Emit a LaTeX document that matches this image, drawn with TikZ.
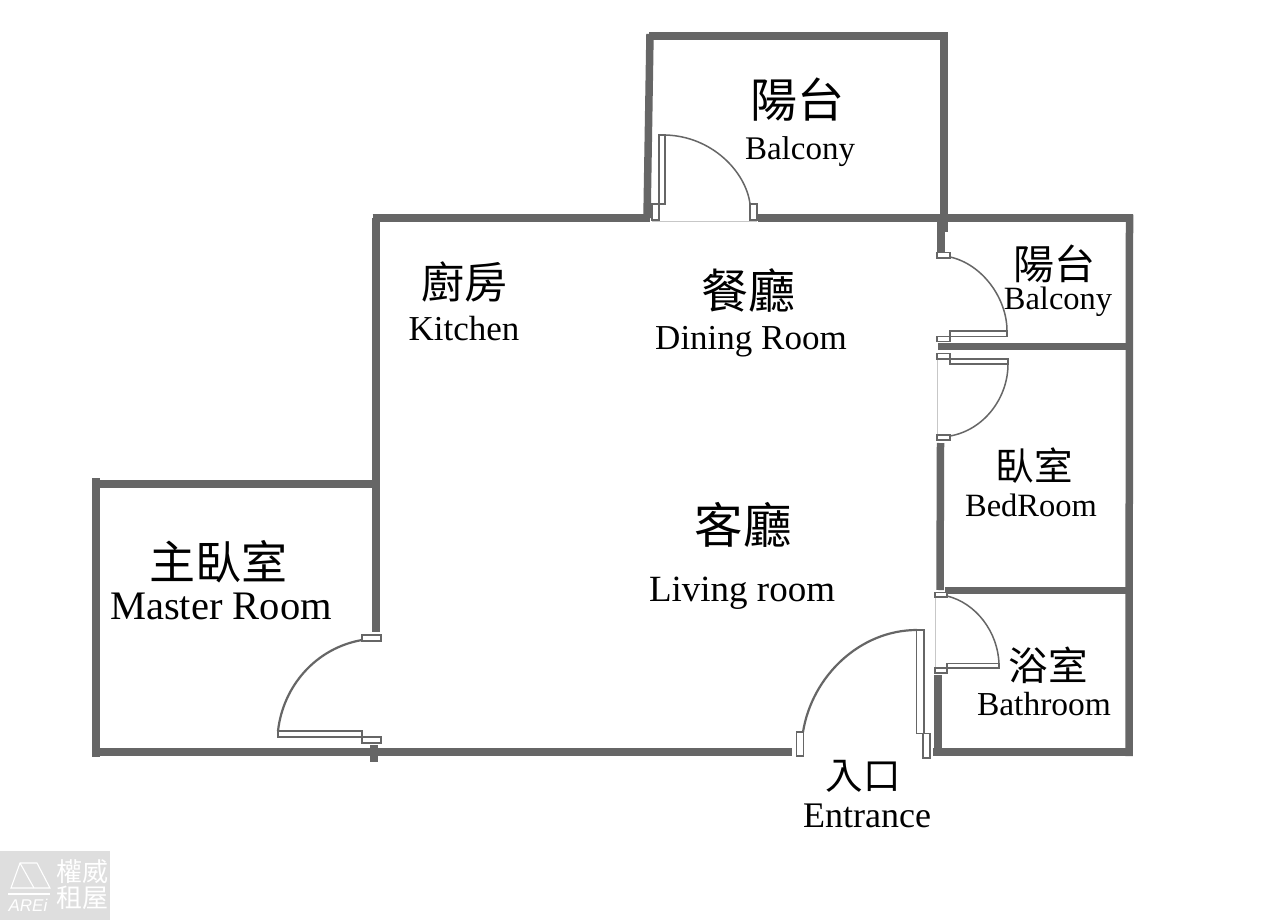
\documentclass[tikz,border=0pt]{standalone}
\usepackage{fontspec}
\setmainfont{Liberation Serif}
\newfontfamily\cjk{Noto Sans CJK TC}
\newfontfamily\wmfont{Liberation Sans}
\definecolor{wallgray}{HTML}{666666}
\definecolor{wmbg}{HTML}{DEDEDE}
\tikzset{
 wall/.style={draw=wallgray,line width=7.5pt,line cap=butt},
 doorpart/.style={draw=wallgray,fill=white,line width=1.8pt},
 swing/.style={draw=wallgray,line width=1.5pt},
 heavyswing/.style={draw=wallgray,line width=2.2pt},
 thinline/.style={draw=black!22,line width=.7pt},
 zh/.style={inner sep=0pt,font=\cjk},
 en/.style={inner sep=0pt,text=black},
}
\begin{document}
\begin{tikzpicture}[x=1pt,y=-1pt]
\useasboundingbox (0,0) rectangle (1276,920);
\fill[white] (0,0) rectangle (1276,920);
% walls
\draw[wall] (647,218) -- (650,34);
\draw[wall] (649,36) -- (948,36);
\draw[wall] (944,36) -- (944,232);
\draw[wall] (941,218) -- (941,252);
\draw[wall] (372.5,218) -- (650,218);
\draw[wall] (758,218) -- (1133,218);
\draw[wall] (1129.5,214.5) -- (1129,756);
\draw[wall] (938,346.5) -- (1133,346.5);
\draw[wall] (945,590.5) -- (1129,590.5);
\draw[wall] (940.5,443) -- (940,590);
\draw[wall] (938,675) -- (938,755);
\draw[wall] (933,752) -- (1133,752);
\draw[wall] (376,218) -- (376,632);
\draw[wall] (93,484) -- (376,484);
\draw[wall] (96,478) -- (96,757);
\draw[wall] (92,752) -- (792,752);
\draw[wall] (374,745) -- (374,762);
% balcony door
\draw[thinline] (652,221) -- (757,221);
\draw[swing] (665,135) .. controls (712,136) and (746,172) .. (750,204);
\draw[doorpart] (659,135) rectangle (665,204);
\draw[doorpart] (652,204) rectangle (659,220);
\draw[doorpart] (750,204) rectangle (757,220);
% right balcony door
\draw[swing] (950,257) .. controls (982,264) and (1007,298) .. (1007,331);
\draw[doorpart] (950,331) rectangle (1007,336.5);
\draw[doorpart] (937,252.5) rectangle (950,258);
\draw[doorpart] (937,336.5) rectangle (950,341.5);
% bedroom door
\draw[thinline] (937,359) -- (937,435);
\draw[swing] (1008,364) .. controls (1008,398) and (984,430) .. (950,436);
\draw[doorpart] (950,359) rectangle (1008,364);
\draw[doorpart] (937,353.5) rectangle (950,359);
\draw[doorpart] (937,435) rectangle (950,440);
% bathroom door
\draw[thinline] (935,597) -- (935,668);
\draw[swing] (947,596) .. controls (976,603) and (998,632) .. (999,664);
\draw[doorpart] (947,663.5) rectangle (999,668);
\draw[doorpart] (935,592.5) rectangle (947,597);
\draw[doorpart] (935,668) rectangle (947,673);
% entrance door
\draw[heavyswing] (917,630) .. controls (860,630) and (812,676) .. (803,732);
\draw[doorpart] (916.5,630) rectangle (924,733.5);
\draw[doorpart] (923,733.5) rectangle (930,758);
\draw[doorpart] (796.5,732) rectangle (803.5,756);
% master door
\draw[heavyswing] (362,640) .. controls (316,648) and (283,686) .. (278,731);
\draw[doorpart] (278,731) rectangle (362,737);
\draw[doorpart] (362,635) rectangle (381,641);
\draw[doorpart] (362,737) rectangle (381,743);
% labels
\node[zh,font=\cjk\fontsize{47}{47}\selectfont] (t1) at (797,100) {陽台};
\node[en,font=\fontsize{33}{33}\selectfont] (t2) at (800,152) {Balcony};
\node[zh,font=\cjk\fontsize{43}{43}\selectfont] (t3) at (464,282) {廚房};
\node[en,font=\fontsize{35}{35}\selectfont] (t4) at (464,329) {Kitchen};
\node[zh,font=\cjk\fontsize{47}{47}\selectfont] (t5) at (748,290) {餐廳};
\node[en,font=\fontsize{35}{35}\selectfont] (t6) at (751,342) {Dining Room};
\node[zh,font=\cjk\fontsize{41}{41}\selectfont] (t7) at (1054,264) {陽台};
\node[en,font=\fontsize{32.5}{32.5}\selectfont] (t8) at (1058,302) {Balcony};
\node[zh,font=\cjk\fontsize{38.5}{38.5}\selectfont] (t9) at (1034,466) {臥室};
\node[en,font=\fontsize{32.5}{32.5}\selectfont] (t10) at (1031,505) {BedRoom};
\node[zh,font=\cjk\fontsize{48.5}{48.5}\selectfont] (t11) at (743,525) {客廳};
\node[en,font=\fontsize{37}{37}\selectfont] (t12) at (742,593) {Living room};
\node[zh,font=\cjk\fontsize{46}{46}\selectfont] (t13) at (218,562) {主臥室};
\node[en,font=\fontsize{40.5}{40.5}\selectfont] (t14) at (221,606) {Master Room};
\node[zh,font=\cjk\fontsize{39.5}{39.5}\selectfont] (t15) at (1048,665) {浴室};
\node[en,font=\fontsize{33.5}{33.5}\selectfont] (t16) at (1044,704) {Bathroom};
\node[zh,font=\cjk\fontsize{37.5}{37.5}\selectfont] (t17) at (863,776) {入口};
\node[en,font=\fontsize{36}{36}\selectfont] (t18) at (867,816) {Entrance};
% watermark
\fill[wmbg] (0,851) rectangle (110,920);
\draw[white,line width=1.1pt,line join=miter] (11,888) -- (20,863) -- (37,863) -- (50,888) -- cycle;
\draw[white,line width=1.1pt] (20,863) -- (34,888);
\draw[white,line width=1.5pt] (8,894) -- (50,894);
\node[inner sep=0pt,text=white,font=\wmfont\itshape\fontsize{17}{17}\selectfont] (w1) at (28,905) {AREi};
\node[inner sep=0pt,text=white,font=\cjk\fontsize{26}{26}\selectfont] (w2) at (82,872) {權威};
\node[inner sep=0pt,text=white,font=\cjk\fontsize{26}{26}\selectfont] (w3) at (82,898) {租屋};
\end{tikzpicture}
\end{document}
